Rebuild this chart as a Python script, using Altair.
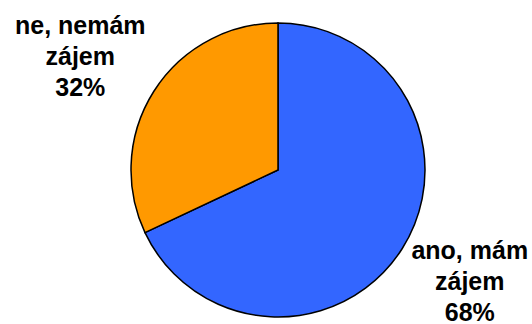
import altair as alt
import pandas as pd

categories = ["ano, mám zájem", "ne, nemám zájem"]
labels = ["ano, mám\nzájem\n68%", "ne, nemám\nzájem\n32%"]
values = [68, 32]
order = [0, 1]
colors = ["#3366FF", "#FF9900"]

df = pd.DataFrame({"category": categories, "label": labels, "value": values, "order": order})

cx, cy = 278, 170

base = alt.Chart(df).encode(
    theta=alt.Theta("value:Q", stack=True),
    order=alt.Order("order:Q"),
)

pie = base.mark_arc(stroke="black", strokeWidth=1.5, radius=147).encode(
    color=alt.Color("category:N", scale=alt.Scale(domain=categories, range=colors), legend=None),
    x=alt.value(cx),
    y=alt.value(cy),
)

text_style = dict(
    radius=220,
    font="Liberation Sans",
    fontSize=25,
    fontWeight="bold",
    lineBreak="\n",
    lineHeight=31,
    align="center",
    baseline="middle",
    color="black",
)

def label_layer(cat, dx, dy):
    return base.mark_text(dx=dx, dy=dy, **text_style).encode(
        text="label:N",
        x=alt.value(cx),
        y=alt.value(cy),
        opacity=alt.condition(alt.datum.category == cat, alt.value(1), alt.value(0)),
    )

text_yes = label_layer(categories[0], 6, -37)
text_no = label_layer(categories[1], -12, -26)

chart = (pie + text_yes + text_no).properties(
    width=532, height=324, padding=0, autosize=alt.AutoSizeParams(type="none")
).configure_view(stroke=None)

chart.save("out.html", embed_options={"renderer": "svg", "actions": False})
